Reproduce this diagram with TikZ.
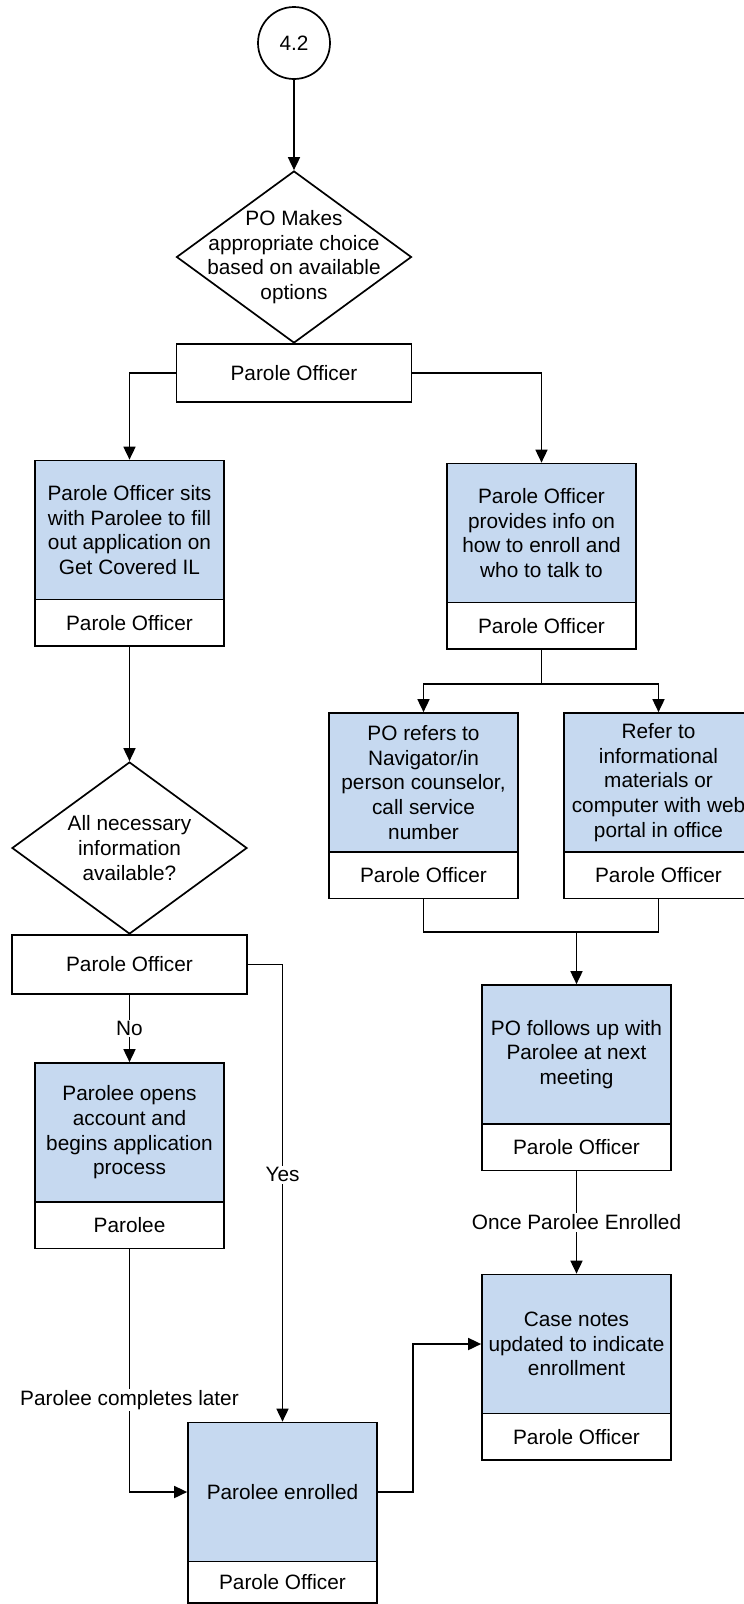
\documentclass[tikz,border=0pt]{standalone}
\usepackage{fontspec}
\setmainfont{Liberation Sans}
\usetikzlibrary{arrows.meta,shapes.geometric,calc}
\definecolor{taskblue}{RGB}{198,217,240}
\begin{document}
\begin{tikzpicture}[x=1pt,y=-1pt,
  every node/.style={font=\fontsize{20.8}{24.6}\selectfont, align=center},
  line/.style={line width=1.7pt, draw=black},
  arr/.style={line, -{Triangle[length=13pt,width=12pt]}},
  task/.style={draw, line width=1.7pt, fill=taskblue, minimum width=189pt, minimum height=139pt, inner sep=2pt},
  role/.style={draw, line width=1.7pt, fill=white, minimum width=189pt, minimum height=46.5pt, inner sep=2pt},
  wide/.style={draw, line width=1.7pt, fill=white, minimum width=235pt, minimum height=58.5pt},
  decision/.style={draw, line width=1.7pt, diamond, minimum width=235pt, minimum height=172pt, inner sep=0pt},
  lbl/.style={fill=white, inner sep=1.5pt}
]
\useasboundingbox (0,0) rectangle (744,1604);
\fill[white] (0,0) rectangle (744,1604);

% top
\node[circle, draw, line width=1.7pt, minimum size=72pt, inner sep=0pt] (c42) at (294,43) {4.2};
\node[decision, label={center:PO Makes\\appropriate choice\\based on available\\options}] (d1) at (294,257) {};
\node[wide] (p1) at (294,373) {Parole Officer};

% left column
\node[task] (a) at (129.5,530) {Parole Officer sits\\with Parolee to fill\\out application on\\Get Covered IL};
\node[role] (ar) at (129.5,622.75) {Parole Officer};
\node[decision, label={center:All necessary\\information\\available?}] (d2) at (129.5,848) {};
\node[wide] (p2) at (129.5,964.5) {Parole Officer};
\node[task] (e) at (129.5,1132.5) {Parolee opens\\account and\\begins application\\process};
\node[role] (er) at (129.5,1225.25) {Parolee};
\node[task] (f) at (282.5,1492) {Parolee enrolled};
\node[role, minimum height=41.5pt] (fr) at (282.5,1582.25) {Parole Officer};

% right column
\node[task] (b) at (541.5,533) {Parole Officer\\provides info on\\how to enroll and\\who to talk to};
\node[role] (br) at (541.5,625.75) {Parole Officer};
\node[task] (c3) at (423.5,782.5) {PO refers to\\Navigator/in\\person counselor,\\call service\\number};
\node[role] (c3r) at (423.5,875.25) {Parole Officer};
\node[task] (c4) at (658.5,782.5) {Refer to\\informational\\materials or\\computer with web\\portal in office};
\node[role] (c4r) at (658.5,875.25) {Parole Officer};
\node[task] (d6) at (576.5,1054.5) {PO follows up with\\Parolee at next\\meeting};
\node[role] (d6r) at (576.5,1147.25) {Parole Officer};
\node[task] (d7) at (576.5,1344) {Case notes\\updated to indicate\\enrollment};
\node[role] (d7r) at (576.5,1436.75) {Parole Officer};

% connectors
\draw[arr] (c42.south) -- (d1.north);
\draw[arr] (p1.west) -| (a.north);
\draw[arr] (p1.east) -| (b.north);
\draw[arr] (ar.south) -- (d2.north);
\coordinate (split) at (541.5,684);
\draw[line] (br.south) -- (split);
\draw[arr] (split) -| (c3.north);
\draw[arr] (split) -| (c4.north);
\coordinate (merge) at (576.5,932);
\draw[line] (c3r.south) |- (merge);
\draw[line] (c4r.south) |- (merge);
\draw[arr] (merge) -- (d6.north);
\draw[arr] (d6r.south) -- node[lbl]{Once Parolee Enrolled} (d7.north);
\draw[arr] (p2.south) -- node[lbl]{No} (e.north);
\draw[arr] (p2.east) -| node[lbl,pos=0.73]{Yes} (f.north);
\draw[arr] (er.south) |- node[lbl,pos=0.31]{Parolee completes later} (f.west);
\draw[arr] (f.east) -- ++(35,0) |- (d7.west);
\end{tikzpicture}
\end{document}
